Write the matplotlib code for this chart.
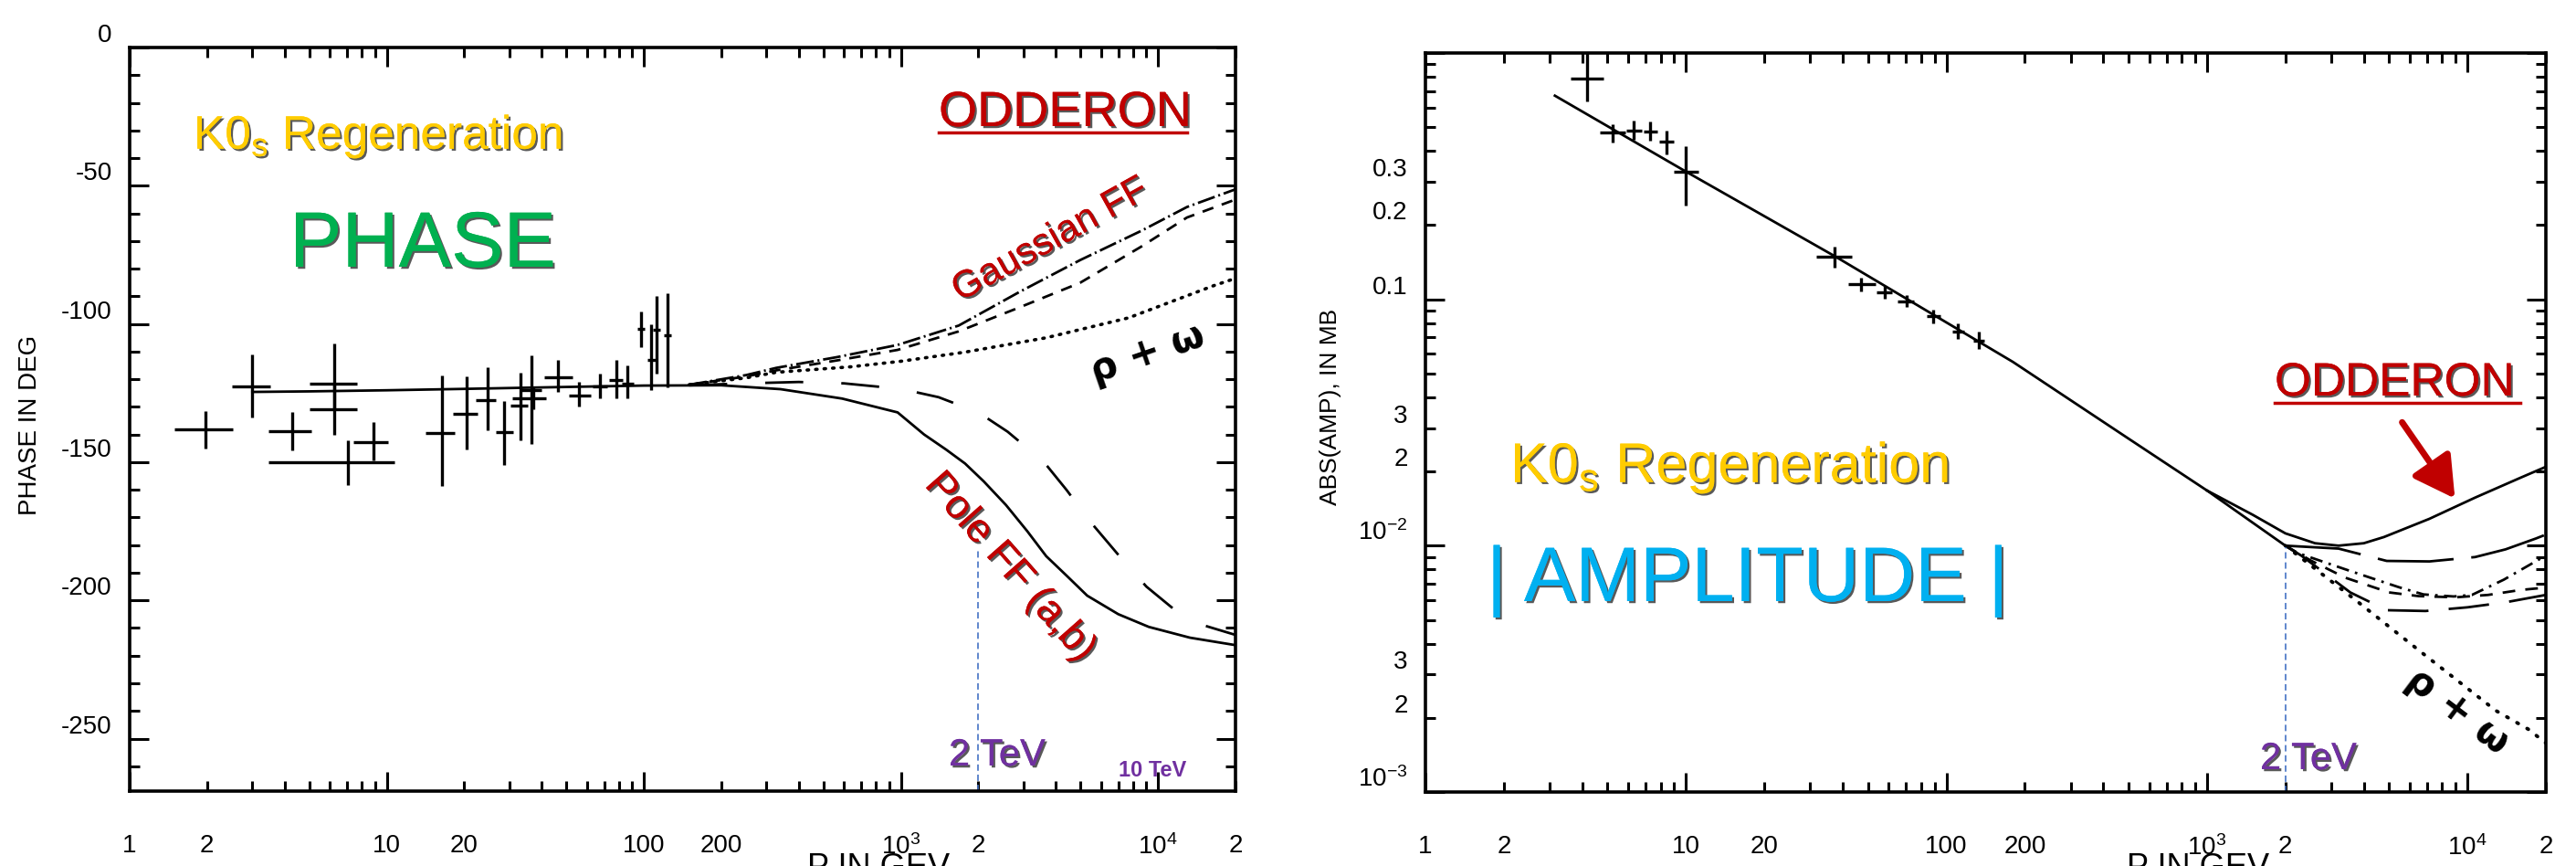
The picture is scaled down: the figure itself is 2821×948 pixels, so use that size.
import numpy as np
import matplotlib
matplotlib.use("Agg")
import matplotlib.pyplot as plt
import matplotlib.patheffects as pe
from matplotlib.ticker import FixedLocator, FuncFormatter

plt.rcParams["axes.unicode_minus"] = False
plt.rcParams["lines.scale_dashes"] = False
plt.rcParams["mathtext.default"] = "regular"
plt.rcParams["font.family"] = ["Liberation Sans", "DejaVu Sans"]

W, H = 2821, 948

# ---------------- PHASE panel (P in GeV, phase in degrees) ----------------
phase_x = [1.97, 3.0, 4.27, 6.24, 6.24, 8.87, 7.06, 16.4, 20.4, 24.7, 28.5, 33.0,
           36.5, 37.0, 46.2, 55.9, 67.4, 78.0, 86.5, 97.4, 107, 112, 124]
phase_xlo = [1.49, 2.49, 3.48, 5.0, 5.0, 7.44, 3.48, 14.2, 18.1, 22.2, 26.5, 30.3,
             33.0, 30.7, 41.0, 51.0, 63.0, 73.0, 82.0, 94.0, 103, 108, 120]
phase_xhi = [2.52, 3.53, 5.09, 7.66, 7.66, 10.1, 10.7, 18.4, 22.5, 26.5, 31.1, 35.5,
             40.0, 41.6, 53.0, 62.0, 72.0, 83.0, 91.0, 101, 111, 116, 128]
phase_y = [-138.0, -122.5, -138.8, -121.5, -131.0, -142.9, -150.0, -139.3, -132.5,
           -127.5, -139.0, -129.7, -123.8, -127.0, -119.3, -125.8, -122.5, -120.4,
           -121.5, -101.7, -113.0, -102.0, -104.0]
phase_ylo = [-145.2, -134.0, -145.6, -131.0, -140.0, -149.5, -158.4, -158.7, -145.5,
             -138.6, -151.0, -142.0, -143.5, -131.0, -124.7, -130.0, -127.0, -127.0,
             -127.0, -108.3, -124.0, -118.0, -123.0]
phase_yhi = [-131.4, -111.0, -131.9, -107.0, -122.0, -135.6, -142.0, -118.7, -119.0,
             -115.8, -128.0, -117.5, -111.5, -123.0, -113.0, -121.0, -118.0, -113.0,
             -115.0, -95.6, -100.0, -90.0, -89.0]

# Pole form factor, curve (a) solid, includes the low-energy fit
pole_a_x = [3, 5, 10, 20, 50, 100, 200, 340, 590, 970, 1230, 1500, 1775, 2100,
            2560, 3100, 3670, 4400, 5300, 7000, 9200, 13300, 20000]
pole_a_y = [-124.6, -124.4, -124.0, -123.5, -122.8, -122.3, -122.2, -123.6, -127.0,
            -132.0, -140.0, -145.5, -150.5, -157.0, -165.5, -175.0, -184.0, -191.0,
            -198.3, -205.0, -209.6, -213.5, -216.2]
# Pole form factor, curve (b) long dashes
pole_b_x = [150, 250, 400, 600, 1000, 1400, 2000, 2600, 3600, 4400, 5500, 7000,
            9000, 11800, 15000, 20000]
pole_b_y = [-122.2, -121.5, -121.0, -121.5, -123.5, -126.5, -132.0, -139.0, -150.0,
            -160.0, -172.0, -183.5, -195.0, -204.0, -209.0, -212.5]
# Gaussian form factor curves
gauss_x = [150, 250, 327, 564, 970, 1676, 2893, 4977, 8610, 12950, 20000]
gauss_top_y = [-122.0, -118.5, -115.9, -112.0, -107.6, -100.6, -88.4, -76.9, -66.3,
               -57.7, -51.3]
gauss_dash_y = [-122.0, -119.0, -116.8, -113.2, -109.4, -102.7, -94.0, -85.1, -72.0,
                -61.5, -55.0]
# rho + omega only
rho_phase_x = [150, 250, 327, 640, 1000, 1775, 3673, 7674, 16400, 20000]
rho_phase_y = [-122.0, -119.5, -117.5, -115.5, -113.5, -110.2, -105.0, -97.8, -86.2,
               -83.5]

# ---------------- AMPLITUDE panel (P in GeV, |amp| in mb) ----------------
amp_x = [4.18, 5.22, 6.32, 7.3, 8.43, 10.0, 37.1, 47.1, 58.0, 70.2, 89.2, 111, 133]
amp_xlo = [3.62, 4.67, 5.9, 6.9, 7.9, 9.0, 31.6, 42.0, 54.0, 65.0, 84.0, 105, 127]
amp_xhi = [4.82, 5.85, 6.8, 7.8, 9.0, 11.2, 43.5, 53.5, 62.0, 75.0, 95.0, 117, 140]
amp_y = [0.785, 0.475, 0.484, 0.480, 0.438, 0.330, 0.149, 0.115, 0.107, 0.0984,
         0.0853, 0.074, 0.068]
amp_ylo = [0.636, 0.433, 0.445, 0.44, 0.386, 0.241, 0.1345, 0.108, 0.101, 0.093,
           0.080, 0.069, 0.063]
amp_yhi = [1.0, 0.514, 0.53, 0.525, 0.484, 0.42, 0.164, 0.122, 0.113, 0.104,
           0.091, 0.080, 0.074]

fit_x = [3.14, 10, 37.7, 180, 500, 1000, 2000]
fit_y = [0.671, 0.330, 0.1486, 0.0557, 0.0272, 0.01675, 0.0100]
rho_amp_x = [2000, 3760, 6700, 12850, 17100, 20000]
rho_amp_y = [0.0100, 0.00596, 0.00367, 0.00214, 0.00180, 0.00158]
odd_a_x = [1000, 1500, 2000, 2600, 3200, 4000, 4780, 7140, 10700, 16000, 20000]
odd_a_y = [0.01675, 0.01334, 0.01122, 0.01023, 0.0100, 0.01023, 0.01084, 0.01285,
           0.01567, 0.01888, 0.0209]
odd_b_x = [2000, 3200, 4900, 7150, 10700, 14000, 18300, 20000]
odd_b_y = [0.0100, 0.00973, 0.00867, 0.00863, 0.00899, 0.00966, 0.01069, 0.01109]
odd_c_x = [2000, 2190, 3370, 4290, 5460, 6780, 8850, 10400, 13800, 20000]
odd_c_y = [0.0100, 0.00940, 0.00804, 0.00738, 0.00678, 0.00634, 0.00622, 0.00631,
           0.00728, 0.00912]
odd_d_x = [2000, 2500, 3400, 5000, 6500, 9000, 12000, 16000, 20000]
odd_d_y = [0.0100, 0.00871, 0.00741, 0.00646, 0.00624, 0.00617, 0.00631, 0.00661,
           0.00676]
odd_e_x = [2000, 2300, 2900, 3550, 4900, 6900, 10000, 14000, 20000]
odd_e_y = [0.0100, 0.00912, 0.00759, 0.00646, 0.00547, 0.00543, 0.00562, 0.00589,
           0.00631]

# 2 TeV marker
tev_x = 2000
tev_top_phase = -182
tev_top_amp = 0.0099

x_major = [1, 10, 100, 1000, 10000]
x_major_labels = {1: "1", 10: "10", 100: "100", 1000: "$10^3$", 10000: "$10^4$"}
x_minor_labels = {2: "2", 20: "20", 200: "200", 2000: "2", 20000: "2"}
amp_major_labels = {0.001: "$10^{-3}$", 0.01: "$10^{-2}$", 0.1: "0.1"}
amp_minor_labels = {0.2: "0.2", 0.3: "0.3", 0.02: "2", 0.03: "3", 0.002: "2", 0.003: "3"}

RED = "#C00000"
GOLD = "#FFCC00"
PURPLE = "#7030A0"
TICKFONT = 20
LW = 2.0


def fx(px):
    return px / W


def fy(py):
    return 1 - py / H


def lookup(table):
    def f(v, pos):
        for k, s in table.items():
            if abs(v - k) / k < 1e-6:
                return s
        return ""
    return f


shadow = [pe.withSimplePatchShadow(offset=(1.6, -1.6), shadow_rgbFace="#222222", alpha=0.75),
          pe.Normal()]

fig = plt.figure(figsize=(W / 100, H / 100), dpi=100)
ax1 = fig.add_axes([fx(142), fy(866), (1353 - 142) / W, (866 - 52) / H])
ax2 = fig.add_axes([fx(1561), fy(867), (2788 - 1561) / W, (867 - 58) / H])

x_minor = [k * 10 ** n for n in range(0, 5) for k in range(2, 10) if k * 10 ** n <= 20000]

for ax in (ax1, ax2):
    ax.set_xscale("log")
    ax.set_xlim(1, 20000)
    ax.xaxis.set_major_locator(FixedLocator(x_major))
    ax.xaxis.set_minor_locator(FixedLocator(x_minor))
    ax.xaxis.set_major_formatter(FuncFormatter(lookup(x_major_labels)))
    ax.xaxis.set_minor_formatter(FuncFormatter(lookup(x_minor_labels)))
    ax.tick_params(which="both", direction="in", top=True, right=True,
                   labelsize=TICKFONT, width=2.2)
    ax.tick_params(which="major", length=15)
    ax.tick_params(which="minor", length=8)
    ax.tick_params(axis="x", which="both", pad=34)
    ax.tick_params(axis="y", which="both", pad=14)
    for s in ax.spines.values():
        s.set_linewidth(2.6)

# ---- left: phase ----
ax1.set_ylim(-269, 0)
ax1.yaxis.set_major_locator(FixedLocator([0, -50, -100, -150, -200, -250]))
ax1.yaxis.set_minor_locator(FixedLocator(np.arange(-260, 0, 10)))
ax1.yaxis.set_major_formatter(FuncFormatter(lambda v, p: "%d" % v))

px = np.array(phase_x)
py = np.array(phase_y)
ax1.errorbar(px, py,
             xerr=[px - np.array(phase_xlo), np.array(phase_xhi) - px],
             yerr=[py - np.array(phase_ylo), np.array(phase_yhi) - py],
             fmt="none", ecolor="black", elinewidth=2.4, capsize=0)

ax1.plot(pole_a_x, pole_a_y, color="black", lw=LW)
ax1.plot(pole_b_x, pole_b_y, color="black", lw=LW, ls=(0, (30, 30)))
ax1.plot(gauss_x, gauss_top_y, color="black", lw=LW, ls=(0, (14, 3, 1.5, 3)))
ax1.plot(gauss_x, gauss_dash_y, color="black", lw=LW, ls=(0, (9, 7)))
ax1.plot(rho_phase_x, rho_phase_y, color="black", lw=2.6, ls=(0, (1.2, 5.5)),
         dash_capstyle="round")
ax1.plot([tev_x, tev_x], [-269, tev_top_phase], color="#4472C4", lw=1.2, ls=(0, (5, 3)))

# ---- right: amplitude ----
ax2.set_yscale("log")
ax2.set_ylim(1e-3, 1)
ax2.yaxis.set_major_locator(FixedLocator([1e-3, 1e-2, 1e-1, 1]))
ax2.yaxis.set_minor_locator(FixedLocator([k * 10.0 ** n for n in (-3, -2, -1) for k in range(2, 10)]))
ax2.yaxis.set_major_formatter(FuncFormatter(lookup(amp_major_labels)))
ax2.yaxis.set_minor_formatter(FuncFormatter(lookup(amp_minor_labels)))

ax_ = np.array(amp_x)
ay_ = np.array(amp_y)
ax2.errorbar(ax_, ay_,
             xerr=[ax_ - np.array(amp_xlo), np.array(amp_xhi) - ax_],
             yerr=[ay_ - np.array(amp_ylo), np.array(amp_yhi) - ay_],
             fmt="none", ecolor="black", elinewidth=2.4, capsize=0)

ax2.plot(fit_x, fit_y, color="black", lw=LW)
ax2.plot(rho_amp_x, rho_amp_y, color="black", lw=2.8, ls=(0, (1.2, 8)),
         dash_capstyle="round")
ax2.plot(odd_a_x, odd_a_y, color="black", lw=LW)
ax2.plot(odd_b_x, odd_b_y, color="black", lw=LW, ls=(0, (60, 14)))
ax2.plot(odd_c_x, odd_c_y, color="black", lw=LW, ls=(0, (10, 5, 2, 5)))
ax2.plot(odd_d_x, odd_d_y, color="black", lw=LW, ls=(0, (10, 8)))
ax2.plot(odd_e_x, odd_e_y, color="black", lw=LW, ls=(0, (32, 16)))
ax2.plot([tev_x, tev_x], [1e-3, tev_top_amp], color="#4472C4", lw=1.2, ls=(0, (5, 3)))

for ax in (ax1, ax2):
    for lab in ax.get_yticklabels(which="both"):
        lab.set_va("bottom")

# axis titles (scanned figure style, x titles cut by the bottom edge as in the scan)
fig.text(fx(33), fy(465), "PHASE IN DEG", rotation=90, ha="center", va="center", fontsize=20)
fig.text(fx(1457), fy(445), "ABS(AMP), IN MB", rotation=90, ha="center", va="center",
         fontsize=19)
fig.text(fx(962), fy(960), "P IN GEV", ha="center", va="baseline", fontsize=26)
fig.text(fx(2407), fy(960), "P IN GEV", ha="center", va="baseline", fontsize=26)

# ---- slide annotations, left ----
fig.text(fx(212), fy(163), "K0$_s$ Regeneration", color=GOLD, fontsize=37,
         ha="left", va="baseline", path_effects=shadow)
fig.text(fx(317), fy(292), "PHASE", color="#00B050", fontsize=62,
         ha="left", va="baseline", path_effects=shadow)
fig.text(fx(1028), fy(138), "ODDERON", color=RED, fontsize=39,
         ha="left", va="baseline", path_effects=shadow)
fig.add_artist(plt.Line2D([fx(1028), fx(1300)], [fy(145), fy(145)], color=RED, lw=2.5,
                          transform=fig.transFigure))
fig.text(fx(1150), fy(263), "Gaussian FF", color=RED, fontsize=30, rotation=29,
         ha="center", va="center", rotation_mode="anchor", path_effects=shadow)
fig.text(fx(1257), fy(387), "ρ + ω", color="black", fontsize=30, fontweight="bold",
         rotation=19, ha="center", va="center", rotation_mode="anchor",
         family="DejaVu Sans")
fig.text(fx(1106), fy(621), "Pole FF (a,b)", color=RED, fontsize=32, rotation=-48.6,
         ha="center", va="center", rotation_mode="anchor", path_effects=shadow)
fig.text(fx(1039), fy(838), "2 TeV", color=PURPLE, fontsize=30, ha="left",
         va="baseline", path_effects=shadow)
fig.text(fx(1225), fy(850), "10 TeV", color=PURPLE, fontsize=17, fontweight="bold",
         ha="left", va="baseline")

# ---- slide annotations, right ----
fig.text(fx(1654), fy(528), "K0$_s$ Regeneration", color=GOLD, fontsize=44,
         ha="left", va="baseline", path_effects=shadow)
fig.text(fx(1628), fy(658), "| AMPLITUDE |", color="#00B0F0", fontsize=61,
         ha="left", va="baseline", path_effects=shadow)
fig.text(fx(2491), fy(433), "ODDERON", color=RED, fontsize=37,
         ha="left", va="baseline", path_effects=shadow)
fig.add_artist(plt.Line2D([fx(2491), fx(2760)], [fy(441), fy(441)], color=RED, lw=2.5,
                          transform=fig.transFigure))
ax2.annotate("", xy=(fx(2690), fy(548)), xycoords="figure fraction",
             xytext=(fx(2629), fy(460)), textcoords="figure fraction",
             arrowprops=dict(arrowstyle="-|>,head_length=0.8,head_width=0.45",
                             mutation_scale=34, color=RED, lw=5))
fig.text(fx(2691), fy(778), "ρ + ω", color="black", fontsize=30, fontweight="bold",
         rotation=-37, ha="center", va="center", rotation_mode="anchor",
         family="DejaVu Sans")
fig.text(fx(2475), fy(842), "2 TeV", color=PURPLE, fontsize=30, ha="left",
         va="baseline", path_effects=shadow)

fig.savefig("out.png", dpi=100)
